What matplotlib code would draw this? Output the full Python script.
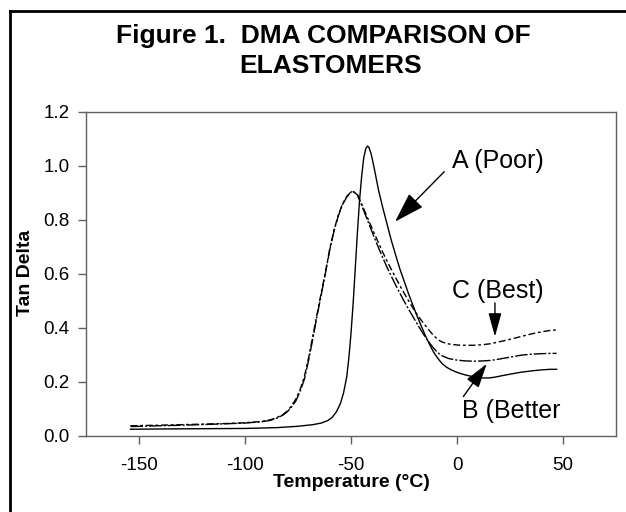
import matplotlib

matplotlib.use("Agg")

import matplotlib.pyplot as plt
from matplotlib.lines import Line2D

plt.rcParams["font.family"] = ["Liberation Sans", "DejaVu Sans"]
plt.rcParams["axes.unicode_minus"] = False

# Curve A (Poor) - solid
temp_a = [-154, -140, -120, -100, -85, -75, -68, -64, -61, -59, -57, -55,
          -53.5, -52, -51, -50, -49, -48, -47, -46, -45, -44, -43, -42.2,
          -41.5, -40.5, -39, -37, -35, -33, -31, -29, -27, -25, -23, -21,
          -19, -17, -15, -13, -11, -9, -7, -5, -3, -1, 1, 4, 8, 12, 15, 18,
          21, 25, 30, 35, 40, 44, 47]
tan_a = [0.025, 0.026, 0.027, 0.028, 0.031, 0.036, 0.042, 0.048, 0.057,
         0.068, 0.088, 0.12, 0.16, 0.22, 0.29, 0.38, 0.49, 0.62, 0.75, 0.87,
         0.96, 1.03, 1.065, 1.074, 1.068, 1.045, 0.99, 0.91, 0.845, 0.785,
         0.725, 0.672, 0.62, 0.575, 0.53, 0.488, 0.448, 0.41, 0.373, 0.34,
         0.31, 0.287, 0.268, 0.255, 0.246, 0.239, 0.233, 0.226, 0.219,
         0.215, 0.215, 0.218, 0.223, 0.229, 0.236, 0.241, 0.245, 0.247,
         0.247]

# Curves B (Better) and C (Best) - broken lines
temp_bc = [-154, -140, -125, -110, -100, -92, -88, -85, -82, -80, -78, -76,
           -74, -72, -70, -68, -66, -64, -62, -60, -58, -56, -54, -52, -50.5,
           -49.2, -47, -45, -43, -41, -39, -37, -35, -33, -31, -29, -27, -25,
           -23, -21, -19, -17, -15, -13, -11, -9, -7, -4, 0, 4, 8, 12, 16,
           20, 25, 30, 35, 40, 44, 47]
tan_b = [0.035, 0.038, 0.041, 0.045, 0.048, 0.053, 0.058, 0.066, 0.078,
         0.09, 0.108, 0.13, 0.165, 0.21, 0.28, 0.36, 0.445, 0.525, 0.605,
         0.69, 0.76, 0.815, 0.857, 0.885, 0.9, 0.908, 0.893, 0.855, 0.815,
         0.775, 0.735, 0.697, 0.66, 0.625, 0.592, 0.56, 0.53, 0.5, 0.472,
         0.445, 0.418, 0.392, 0.367, 0.345, 0.325, 0.308, 0.297, 0.287,
         0.281, 0.278, 0.277, 0.278, 0.28, 0.285, 0.292, 0.299, 0.303,
         0.305, 0.306, 0.306]
tan_c = [0.038, 0.04, 0.043, 0.046, 0.049, 0.054, 0.06, 0.068, 0.08, 0.093,
         0.112, 0.137, 0.172, 0.22, 0.29, 0.37, 0.452, 0.532, 0.61, 0.694,
         0.763, 0.818, 0.86, 0.887, 0.9, 0.906, 0.895, 0.86, 0.823, 0.786,
         0.75, 0.715, 0.68, 0.648, 0.617, 0.587, 0.558, 0.53, 0.503, 0.477,
         0.452, 0.43, 0.41, 0.39, 0.372, 0.357, 0.348, 0.341, 0.337, 0.336,
         0.336, 0.338, 0.342, 0.349, 0.358, 0.368, 0.378, 0.386, 0.391,
         0.393]

x_ticks = [-150, -100, -50, 0, 50]
y_ticks = [0.0, 0.2, 0.4, 0.6, 0.8, 1.0, 1.2]

fig = plt.figure(figsize=(6.26, 5.12), dpi=100)
ax = fig.add_axes([86 / 626, 76 / 512, 530 / 626, 324 / 512])

ax.plot(temp_a, tan_a, color="black", lw=1.0)
ax.plot(temp_bc, tan_b, color="black", lw=1.0, dashes=(9, 1.5, 1.5, 1.5))
ax.plot(temp_bc, tan_c, color="black", lw=1.0, dashes=(5, 2, 2, 2))

ax.set_xlim(-175, 75)
ax.set_ylim(0, 1.2)
ax.set_xticks(x_ticks)
ax.set_yticks(y_ticks)
ax.set_yticklabels([f"{v:.1f}" for v in y_ticks])
ax.tick_params(axis="both", direction="out", length=6, width=1,
               color="#606060", labelsize=13.5)
ax.tick_params(axis="x", pad=9)
ax.tick_params(axis="y", pad=6)
for sp in ax.spines.values():
    sp.set_color("#606060")
    sp.set_linewidth(1.0)

# annotations
ax.text(-2.5, 0.993, "A (Poor)", fontsize=18, va="baseline", ha="left")
ax.annotate("", xy=(-29.2, 0.794), xytext=(-6.0, 0.979),
            arrowprops=dict(arrowstyle="-|>,head_length=1.9,head_width=0.6",
                            mutation_scale=10, color="black", lw=1,
                            shrinkA=0, shrinkB=0))
ax.text(-2.5, 0.51, "C (Best)", fontsize=18, va="baseline", ha="left")
ax.annotate("", xy=(17.9, 0.368), xytext=(17.9, 0.493),
            arrowprops=dict(arrowstyle="-|>,head_length=1.45,head_width=0.4",
                            mutation_scale=10, color="black", lw=1,
                            shrinkA=0, shrinkB=0))
ax.text(2.5, 0.0655, "B (Better", fontsize=18, va="baseline", ha="left")
ax.annotate("", xy=(14.0, 0.267), xytext=(3.0, 0.146),
            arrowprops=dict(arrowstyle="-|>,head_length=1.5,head_width=0.45",
                            mutation_scale=10, color="black", lw=1,
                            shrinkA=0, shrinkB=0))

# titles and axis labels
fig.text(323.5 / 626, 1 - 43 / 512, "Figure 1.  DMA COMPARISON OF",
         fontsize=19, fontweight="bold", ha="center", va="baseline")
fig.text(331 / 626, 1 - 73 / 512, "ELASTOMERS",
         fontsize=19, fontweight="bold", ha="center", va="baseline")
fig.text(351 / 626, 1 - 487 / 512, "Temperature (°C)",
         fontsize=14, fontweight="bold", ha="center", va="baseline")
fig.text(25.5 / 626, 1 - 272.5 / 512, "Tan Delta", fontsize=14,
         fontweight="bold", rotation=90, ha="center", va="center")

# outer frame (left and top edges only visible)
fig.add_artist(Line2D([9.7 / 626, 9.7 / 626], [0, 1 - 10.8 / 512],
                      transform=fig.transFigure, color="black", lw=2))
fig.add_artist(Line2D([9.7 / 626, 1], [1 - 10.8 / 512, 1 - 10.8 / 512],
                      transform=fig.transFigure, color="black", lw=2))

fig.savefig("out.png", dpi=100)
